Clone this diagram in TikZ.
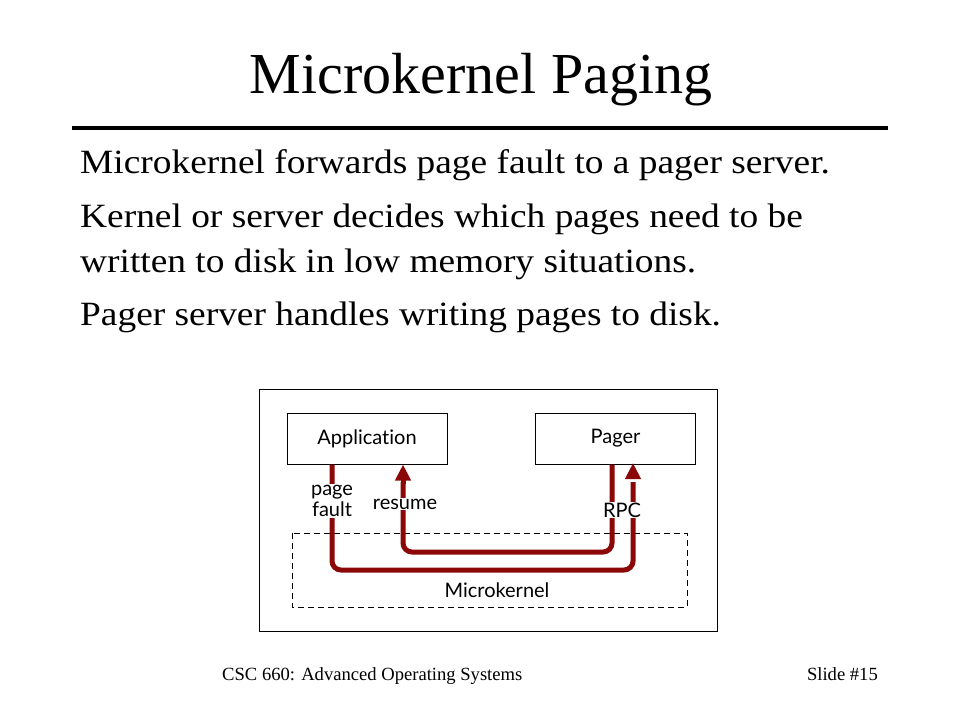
\documentclass[tikz,border=0pt]{standalone}
\usepackage{fontspec}
\setmainfont{Liberation Serif}
\newfontfamily\bodyfont[FakeStretch=1.1]{Liberation Serif}
\newfontfamily\diagfont[Ligatures=NoCommon]{Lato}
\usetikzlibrary{arrows.meta}
\definecolor{kred}{RGB}{140,8,8}
\tikzset{
	box/.style={draw,line width=1pt,minimum width=160pt,minimum height=51pt,inner sep=0pt,font=\diagfont\fontsize{20}{21}\selectfont},
	lbl/.style={fill=white,inner sep=1pt,align=center,font=\diagfont\fontsize{20}{21}\selectfont},
	flow/.style={draw=kred,line width=5pt,rounded corners=9pt},
	body/.style={anchor=base west,inner sep=0pt,font=\bodyfont\fontsize{34}{36}\selectfont}
}
\begin{document}
\begin{tikzpicture}[x=1pt,y=-1pt]
			\useasboundingbox (0,0) rectangle (960,720);
			\fill[white] (0,0) rectangle (960,720);
			% title and text
			\node[anchor=base,inner sep=0pt,font=\fontsize{58}{60}\selectfont] (title) at (481,93) {Microkernel Paging};
			\draw[line width=4pt] (72,128) -- (888,128);
			\node[body] (l1) at (80,173) {Microkernel forwards page fault to a pager server.};
			\node[body] (l2) at (80,227) {Kernel or server decides which pages need to be};
			\node[body] (l3) at (80,272) {written to disk in low memory situations.};
			\node[body] (l4) at (80,325) {Pager server handles writing pages to disk.};
			% diagram
			\draw[line width=1pt] (259,389) rectangle (717,631);
			\draw[dashed,line width=1pt,dash pattern=on 6pt off 4pt] (292,533) rectangle (687,607);
			\node[box] (app) at (367,438.5) {Application};
			\node[box] (pager) at (615.5,438.5) {Pager};
			\node[font=\diagfont\fontsize{20}{21}\selectfont] (mk) at (497,590) {Microkernel};
			\coordinate (c1) at (332,570);
			\coordinate (c2) at (612,552);
			\draw[flow] (app.south -| c1) |- (c1 -| 633,0) -- ++(0,-88) coordinate (rpcup);
			\draw[flow,-{Triangle[length=16pt,width=15pt]}] (rpcup) ++(0,-10) -- ++(0,-9);
			\draw[flow] (pager.south -| c2) |- (c2 -| 403,0) -- ++(0,-70);
			\draw[draw=kred,line width=5pt,-{Triangle[length=16pt,width=15pt]}] (403,484) -- (app.south -| 403,0);
			\node[lbl] (pf) at (332,501) {page\\fault};
			\node[lbl] (res) at (405,504) {resume};
			\node[lbl] (rpc) at (622,510) {RPC};
			% footer
			\node[anchor=base west,inner sep=0pt,font=\fontsize{18.6}{20}\selectfont] (foot) at (222,680) {CSC 660: Advanced Operating Systems};
			\node[anchor=base east,inner sep=0pt,font=\fontsize{18.6}{20}\selectfont] (slide) at (878,680) {Slide \#15};
		\end{tikzpicture}
\end{document}
